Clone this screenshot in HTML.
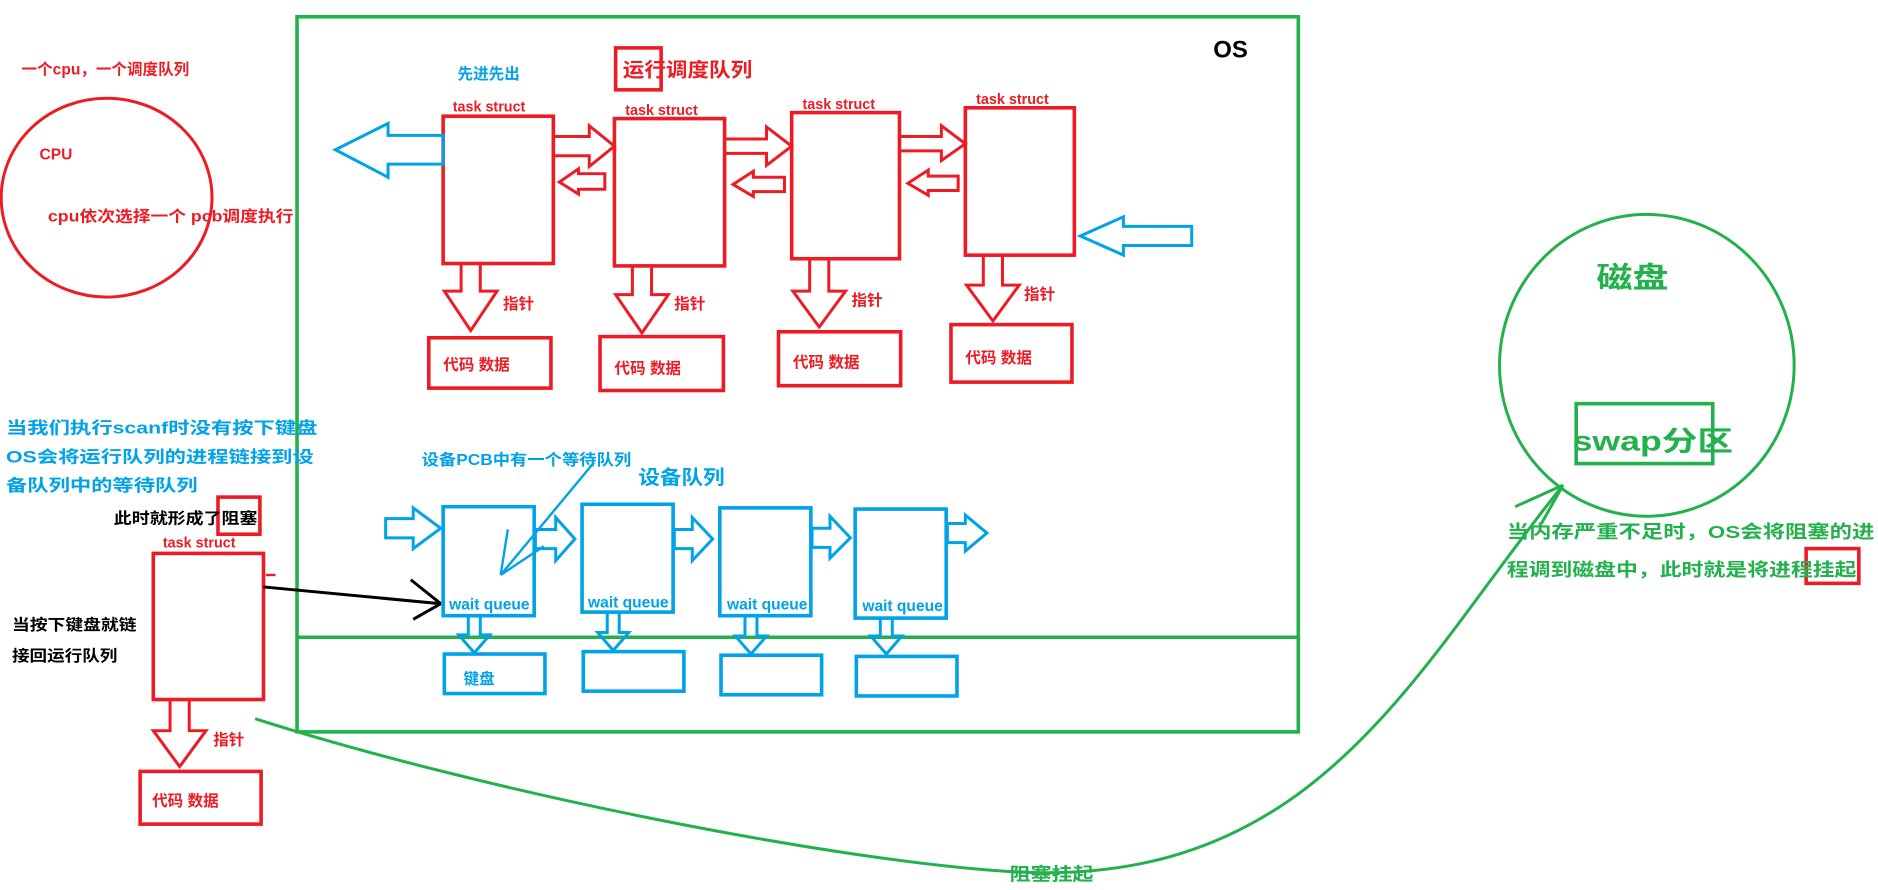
<!DOCTYPE html>
<html><head><meta charset="utf-8"><style>
html,body{margin:0;padding:0;background:#fff;}
svg{display:block;}
text{font-family:"Liberation Sans","Noto Sans CJK SC",sans-serif;font-weight:bold;}
</style></head><body>
<svg width="1878" height="890" viewBox="0 0 1568 743" preserveAspectRatio="none" xmlns="http://www.w3.org/2000/svg">
<rect width="1568" height="743" fill="#fff"/>
<g fill="none" stroke="#22b14c" stroke-width="3">
<rect x="248" y="14" width="836" height="597"/>
<line x1="248" y1="532" x2="1084" y2="532"/>
<ellipse cx="1375" cy="305" rx="123" ry="126" stroke-width="2.5"/>
<rect x="1316" y="337" width="114" height="50"/>
<path d="M213,600 C400,660 700,720 850,728 C1100,740 1180,560 1305,405" stroke-width="2.5"/>
<path d="M1305,405 L1265,423 M1305,405 L1287,437" stroke-width="2.5"/>
</g>
<text x="1013" y="48" font-size="20" fill="#000">OS</text>
<ellipse cx="89" cy="165" rx="88" ry="83" fill="none" stroke="#ed1c24" stroke-width="2.5"/>
<g fill="#ed1c24" font-size="13" lengthAdjust="spacingAndGlyphs">
<text x="18" y="62" textLength="140" lengthAdjust="spacingAndGlyphs">一个cpu，一个调度队列</text>
<text x="33" y="133">CPU</text>
<text x="40" y="185" textLength="205" lengthAdjust="spacingAndGlyphs">cpu依次选择一个 pcb调度执行</text>
<text x="520" y="64" font-size="16" textLength="108" lengthAdjust="spacingAndGlyphs">运行调度队列</text>
<text x="378" y="93" font-size="12">task  struct</text>
<text x="522" y="96" font-size="12">task  struct</text>
<text x="670" y="91" font-size="12">task  struct</text>
<text x="815" y="87" font-size="12">task  struct</text>
<text x="420" y="258">指针</text>
<text x="563" y="258">指针</text>
<text x="711" y="255">指针</text>
<text x="855" y="250">指针</text>
<text x="370" y="309">代码 数据</text>
<text x="513" y="312">代码 数据</text>
<text x="662" y="307">代码 数据</text>
<text x="806" y="303">代码 数据</text>
<text x="136" y="457" font-size="12">task  struct</text>
<text x="178" y="622">指针</text>
<text x="127" y="673">代码 数据</text>
</g>
<text x="382" y="66" font-size="13" fill="#00a2e8">先进先出</text>
<g fill="none" stroke="#ed1c24" stroke-width="3">
<rect x="514" y="40" width="38" height="35"/>
<rect x="370" y="97" width="92" height="123"/>
<rect x="513" y="99" width="92" height="123"/>
<rect x="661" y="94" width="90" height="122"/>
<rect x="806" y="90" width="91" height="123"/>
<rect x="358" y="282" width="102" height="42"/>
<rect x="501" y="281" width="103" height="45"/>
<rect x="650" y="277" width="102" height="45"/>
<rect x="794" y="271" width="101" height="48"/>
<rect x="182" y="415" width="35" height="31"/>
<rect x="128" y="462" width="92" height="122"/>
<rect x="117" y="644" width="101" height="44"/>
<rect x="1508" y="458" width="44" height="29"/>
<path d="M462,114 L492,114 L492,105 L513,122 L492,139 L492,130 L462,130 Z" stroke-width="2.5"/>
<path d="M605,116 L640,116 L640,106 L661,122 L640,138 L640,128 L605,128 Z" stroke-width="2.5"/>
<path d="M751,114 L786,114 L786,105 L806,120 L786,134 L786,126 L751,126 Z" stroke-width="2.5"/>
<path d="M505,145 L483,145 L483,141 L467,152 L483,162 L483,158 L505,158 Z" stroke-width="2.5"/>
<path d="M655,148 L629,148 L629,143 L612,154 L629,164 L629,160 L655,160 Z" stroke-width="2.5"/>
<path d="M800,147 L775,147 L775,142 L758,153 L775,163 L775,159 L800,159 Z" stroke-width="2.5"/>
<path d="M385,220 L385,243 L371,243 L393,276 L415,243 L401,243 L401,220 Z" stroke-width="2.5"/>
<path d="M528,222 L528,246 L514,246 L536,278 L558,246 L544,246 L544,222 Z" stroke-width="2.5"/>
<path d="M676,216 L676,243 L662,243 L684,273 L706,243 L692,243 L692,216 Z" stroke-width="2.5"/>
<path d="M821,213 L821,238 L807,238 L829,268 L851,238 L837,238 L837,213 Z" stroke-width="2.5"/>
<path d="M142,584 L142,610 L128,610 L150,640 L172,610 L158,610 L158,584 Z" stroke-width="2.5"/>
<path d="M222,480 L230,480" stroke-width="2"/>
</g>
<g fill="none" stroke="#00a2e8" stroke-width="2.5">
<path d="M370,113 L324,113 L324,103 L280,125 L324,148 L324,137 L370,137 Z"/>
<path d="M995,189 L938,189 L938,181 L902,197 L938,213 L938,205 L995,205 Z"/>
<rect x="370" y="423" width="76" height="91" stroke-width="3"/>
<rect x="486" y="421" width="76" height="90" stroke-width="3"/>
<rect x="601" y="424" width="76" height="90" stroke-width="3"/>
<rect x="714" y="425" width="76" height="91" stroke-width="3"/>
<rect x="371" y="546" width="84" height="33" stroke-width="3"/>
<rect x="487" y="544" width="84" height="33" stroke-width="3"/>
<rect x="602" y="547" width="84" height="33" stroke-width="3"/>
<rect x="715" y="548" width="84" height="33" stroke-width="3"/>
<path d="M322,433 L345,433 L345,424 L368,441 L345,458 L345,449 L322,449 Z"/>
<path d="M447,442 L464,442 L464,432 L480,450 L464,468 L464,458 L447,458 Z"/>
<path d="M563,442 L578,442 L578,432 L595,450 L578,468 L578,458 L563,458 Z"/>
<path d="M678,441 L693,441 L693,431 L710,449 L693,466 L693,457 L678,457 Z"/>
<path d="M791,437 L806,437 L806,430 L824,445 L806,460 L806,453 L791,453 Z"/>
<path d="M391,514 L391,530 L383,530 L396,545 L409,530 L401,530 L401,514 Z"/>
<path d="M507,511 L507,528 L499,528 L512,543 L525,528 L517,528 L517,511 Z"/>
<path d="M622,514 L622,531 L614,531 L627,546 L640,531 L632,531 L632,514 Z"/>
<path d="M735,516 L735,531 L727,531 L740,546 L753,531 L745,531 L745,516 Z"/>
<path d="M496,386 L418,480 M418,480 L424,442 M418,480 L454,456" stroke-width="2"/>
</g>
<g fill="#00a2e8">
<text x="5" y="362" font-size="14" textLength="260" lengthAdjust="spacingAndGlyphs">当我们执行scanf时没有按下键盘</text>
<text x="5" y="386" font-size="14" textLength="257" lengthAdjust="spacingAndGlyphs">OS会将运行队列的进程链接到设</text>
<text x="5" y="410" font-size="14" textLength="160" lengthAdjust="spacingAndGlyphs">备队列中的等待队列</text>
<text x="352" y="388" font-size="13" textLength="175" lengthAdjust="spacingAndGlyphs">设备PCB中有一个等待队列</text>
<text x="533" y="404" font-size="16" textLength="72" lengthAdjust="spacingAndGlyphs">设备队列</text>
<text x="375" y="509" font-size="13" font-weight="normal">wait queue</text>
<text x="491" y="507" font-size="13" font-weight="normal">wait queue</text>
<text x="607" y="509" font-size="13" font-weight="normal">wait queue</text>
<text x="720" y="510" font-size="13" font-weight="normal">wait queue</text>
<text x="387" y="571" font-size="13">键盘</text>
</g>
<g fill="#000" font-size="13">
<text x="95" y="437" textLength="120" lengthAdjust="spacingAndGlyphs">此时就形成了阻塞</text>
<text x="10" y="526" textLength="104" lengthAdjust="spacingAndGlyphs">当按下键盘就链</text>
<text x="10" y="552" textLength="88" lengthAdjust="spacingAndGlyphs">接回运行队列</text>
</g>
<path d="M220,490 L368,504 M368,504 L343,484 M368,504 L345,517" stroke="#000" stroke-width="2.5" fill="none"/>
<g fill="#22b14c">
<text x="1333" y="240" font-size="24" textLength="60" lengthAdjust="spacingAndGlyphs">磁盘</text>
<text x="1313" y="376" font-size="23" textLength="134" lengthAdjust="spacingAndGlyphs">swap分区</text>
<text x="1258" y="449" font-size="15" textLength="307" lengthAdjust="spacingAndGlyphs">当内存严重不足时，OS会将阻塞的进</text>
<text x="1258" y="481" font-size="15" textLength="292" lengthAdjust="spacingAndGlyphs">程调到磁盘中，此时就是将进程挂起</text>
<text x="843" y="735" font-size="15" textLength="70" lengthAdjust="spacingAndGlyphs">阻塞挂起</text>
</g>
</svg>
</body></html>
